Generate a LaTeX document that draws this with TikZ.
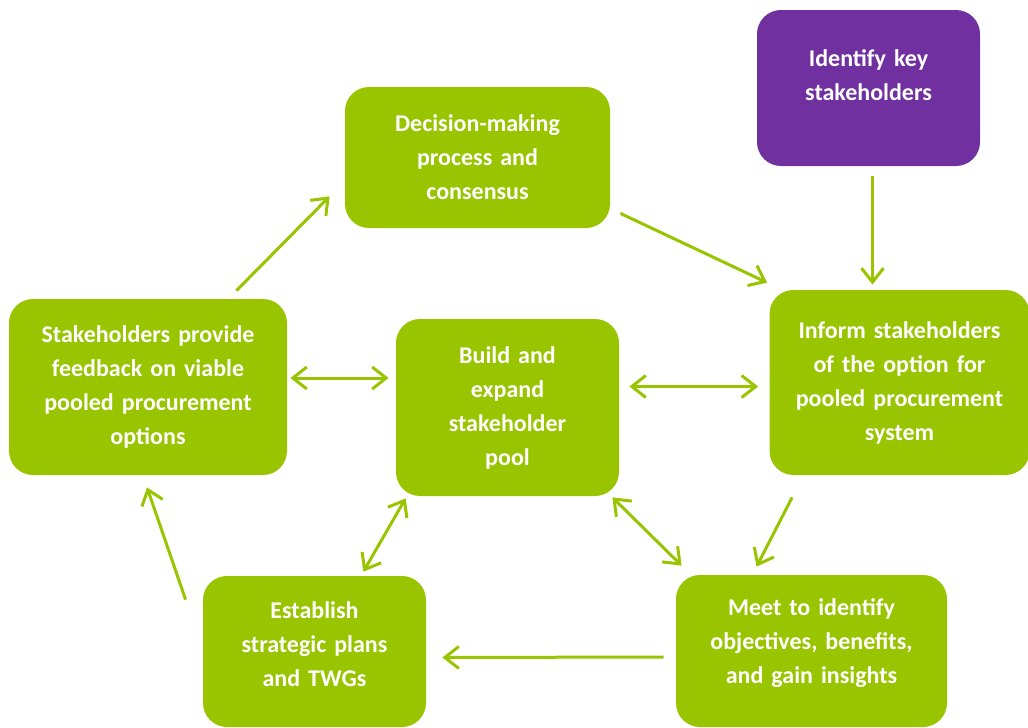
\documentclass[tikz,border=0pt]{standalone}
\usepackage{fontspec}
\setmainfont{Carlito}
\usetikzlibrary{arrows.meta,calc}
\definecolor{leaf}{HTML}{99C400}
\definecolor{plum}{HTML}{7030A0}
\tikzset{
  stepbox/.style={rounded corners=12pt, fill=leaf, text=white, align=center,
    font=\bfseries\fontsize{12}{17}\selectfont, inner sep=0pt},
  link/.style={draw=leaf, line width=1.5pt, -{Straight Barb[length=7pt,width=11pt]}},
  twoway/.style={link, {Straight Barb[length=7pt,width=11pt]}-{Straight Barb[length=7pt,width=11pt]}},
}
\begin{document}
\begin{tikzpicture}[x=0.5pt,y=-0.5pt]
    \useasboundingbox (0,0) rectangle (1028,728);

    %% boxes
    \node[stepbox, fill=plum, minimum width=111.5pt, minimum height=78pt, text width=100pt, text depth=30pt]
        (key) at (868.5,88) {Identify key\\stakeholders};
    \node[stepbox, minimum width=132.5pt, minimum height=70.5pt, text width=120pt]
        (dec) at (477.5,157.5) {Decision-making\\process and\\consensus};
    \node[stepbox, minimum width=130pt, minimum height=92.5pt, text width=120pt, xshift=2.5pt]
        (inf) at (894.5,382.5) {Inform stakeholders\\of the option for\\pooled procurement\\system};
    \node[stepbox, minimum width=111.5pt, minimum height=88.5pt, text width=100pt]
        (bld) at (507.5,407.5) {Build and\\expand\\stakeholder\\pool};
    \node[stepbox, minimum width=139pt, minimum height=88pt, text width=130pt]
        (fbk) at (148,387) {Stakeholders provide\\feedback on viable\\pooled procurement\\options};
    \node[stepbox, minimum width=111.5pt, minimum height=75.5pt, text width=100pt, text depth=41pt]
        (est) at (314.5,651.5) {Establish\\strategic plans\\and TWGs};
    \node[stepbox, minimum width=135.5pt, minimum height=76pt, text width=125pt, text depth=43.5pt]
        (mtg) at (811.5,651) {Meet to identify\\objectives, benefits,\\and gain insights};

    %% cycle
    \draw[link] ($(key.south)+(4,10)$) -- ($(key.south |- inf.north)+(4,-5)$);
    \draw[link] ($(dec.south east)+(10,-15)$) -- ($(inf.north west)+(-2,-7)$);
    \draw[link] ($(inf.south west)+(23,22)$) -- ($(mtg.north west)+(81,-8)$);
    \draw[link] ($(mtg.west)+(-12,6)$) -- ($(est.east)+(16,6)$);
    \draw[link] ($(est.north west)+(-17,24)$) -- ($(fbk.south)+(-1,12)$);
    \draw[link] ($(fbk.north east)+(-51,-8)$) -- ($(dec.south west)+(-15,-32)$);

    %% pool
    \draw[twoway] ($(fbk.east)+(3,-9)$) -- ($(bld.west |- fbk.east)+(-7,-9)$);
    \draw[twoway] ($(bld.east)+(10,-21)$) -- ($(inf.west)+(-11,4)$);
    \draw[twoway] ($(bld.south west)+(10,2)$) -- ($(est.north east)+(-63,-4)$);
    \draw[twoway] ($(bld.south east)+(-7,1)$) -- ($(mtg.north west)+(6,-9)$);
\end{tikzpicture}
\end{document}
